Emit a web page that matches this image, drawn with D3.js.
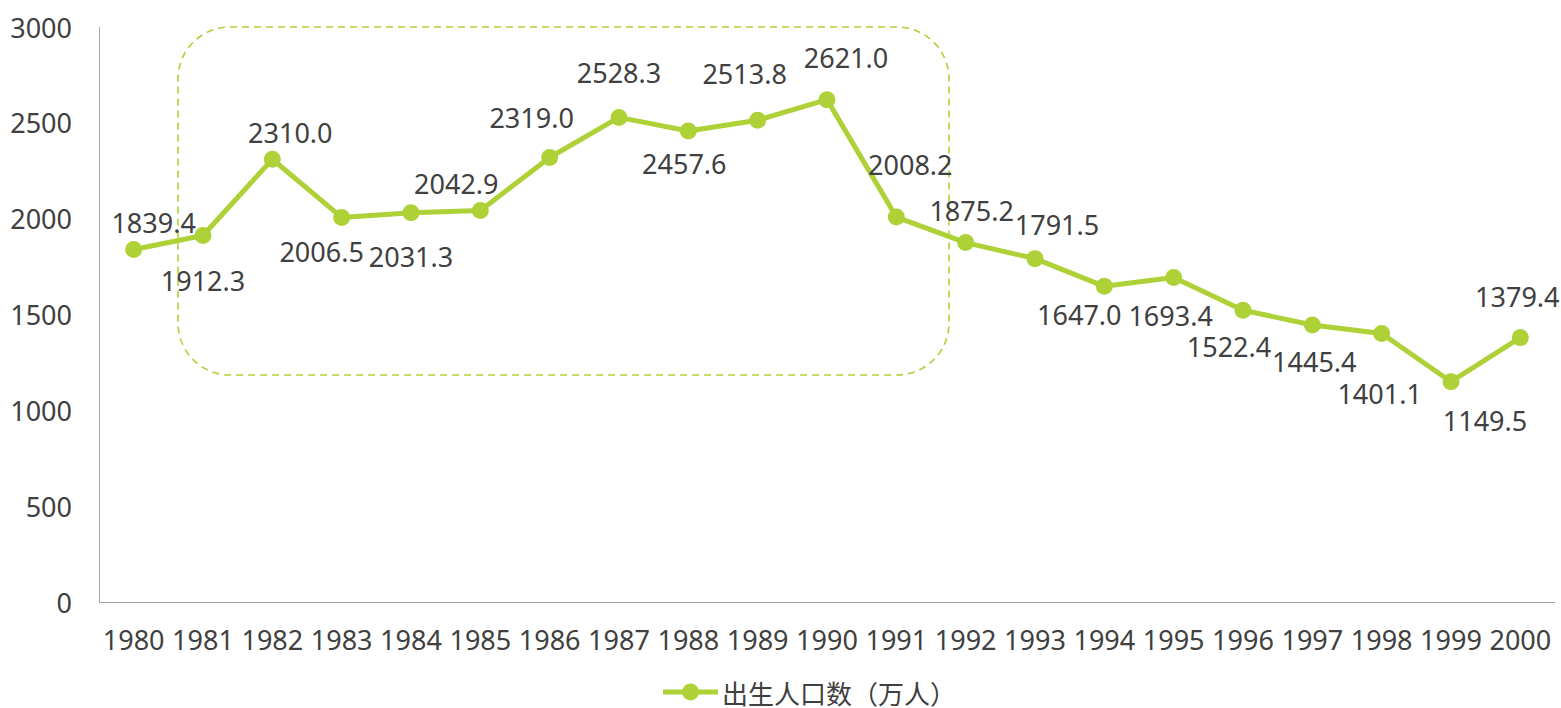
<!DOCTYPE html>
<html>
<head>
<meta charset="utf-8">
<script src="https://cdn.jsdelivr.net/npm/d3@7"></script>
<style>
  body { margin: 0; background: #fff; }
  text { font-family: "Noto Sans", "Noto Sans CJK SC", sans-serif; fill: #404040; }
</style>
</head>
<body>
<main></main>
<script>
// data
let years = ["1980","1981","1982","1983","1984","1985","1986","1987","1988","1989","1990",
             "1991","1992","1993","1994","1995","1996","1997","1998","1999","2000"]
let births = [1839.4, 1912.3, 2310.0, 2006.5, 2031.3, 2042.9, 2319.0, 2528.3, 2457.6, 2513.8, 2621.0,
              2008.2, 1875.2, 1791.5, 1647.0, 1693.4, 1522.4, 1445.4, 1401.1, 1149.5, 1379.4]
let yTicks = [0, 500, 1000, 1500, 2000, 2500, 3000]
let seriesName = "出生人口数（万人）"

// where each data label sits relative to its point (layout only)
let labelDx = [20, 0, 18, -20, 0, -24, -18, 0, -4, -13, 19, 14, 6, 22, -25, -3, -14, 2, -2, 34, -3]
let labelDy = [-27, 45, -27, 34, 44, -27, -40, -45, 33, -47, -42, -53, -32, -34, 28, 38, 36, 37, 60, 39, -41]

let green = "#add136"

let svg = d3.select("main").append("svg")
    .attr("width", 1561)
    .attr("height", 708)

let x = d3.scaleBand().domain(years).range([99, 1555]).padding(0)
let y = d3.scaleLinear().domain([0, 3000]).range([602, 27])
let cx = d => x(d) + x.bandwidth() / 2

// highlight box
svg.append("rect")
    .attr("x", 178)
    .attr("y", y(3000))
    .attr("width", 771)
    .attr("height", 348)
    .attr("rx", 52)
    .attr("ry", 52)
    .attr("fill", "none")
    .attr("stroke", green)
    .attr("stroke-width", 1.6)
    .attr("stroke-dasharray", "7,5")

// axes lines
svg.append("line")
    .attr("x1", 99.5).attr("x2", 99.5)
    .attr("y1", y(3000)).attr("y2", y(0))
    .attr("stroke", "#a6a6a6").attr("stroke-width", 1)
svg.append("line")
    .attr("x1", 99).attr("x2", 1555)
    .attr("y1", y(0) + 0.5).attr("y2", y(0) + 0.5)
    .attr("stroke", "#a6a6a6").attr("stroke-width", 1)

// y tick labels
svg.selectAll(".ytick")
    .data(yTicks)
    .enter().append("text")
    .attr("class", "ytick")
    .attr("x", 72)
    .attr("y", d => y(d))
    .attr("text-anchor", "end")
    .attr("dominant-baseline", "central")
    .style("font-size", "27px")
    .text(d => d)

// x tick labels
svg.selectAll(".xtick")
    .data(years)
    .enter().append("text")
    .attr("class", "xtick")
    .attr("x", d => cx(d))
    .attr("y", 639)
    .attr("text-anchor", "middle")
    .attr("dominant-baseline", "central")
    .style("font-size", "27px")
    .text(d => d)

// line
let line = d3.line()
    .x((d, i) => cx(years[i]))
    .y(d => y(d))
svg.append("path")
    .datum(births)
    .attr("d", line)
    .attr("fill", "none")
    .attr("stroke", green)
    .attr("stroke-width", 5)
    .attr("stroke-linejoin", "round")

svg.selectAll(".pt")
    .data(births)
    .enter().append("circle")
    .attr("class", "pt")
    .attr("cx", (d, i) => cx(years[i]))
    .attr("cy", d => y(d))
    .attr("r", 8.5)
    .attr("fill", green)

// data labels
svg.selectAll(".lbl")
    .data(births)
    .enter().append("text")
    .attr("class", "lbl")
    .attr("x", (d, i) => cx(years[i]) + labelDx[i])
    .attr("y", (d, i) => y(d) + labelDy[i])
    .attr("text-anchor", "middle")
    .attr("dominant-baseline", "central")
    .style("font-size", "27px")
    .text(d => d.toFixed(1))

// legend
svg.append("line")
    .attr("x1", 663).attr("x2", 718)
    .attr("y1", 692).attr("y2", 692)
    .attr("stroke", green).attr("stroke-width", 5)
svg.append("circle")
    .attr("cx", 690.5).attr("cy", 692)
    .attr("r", 8.5).attr("fill", green)
svg.append("text")
    .attr("x", 722)
    .attr("y", 692)
    .attr("dominant-baseline", "central")
    .style("font-family", "'Noto Sans CJK SC', sans-serif")
    .style("font-size", "26px")
    .text(seriesName)
</script>
</body>
</html>
